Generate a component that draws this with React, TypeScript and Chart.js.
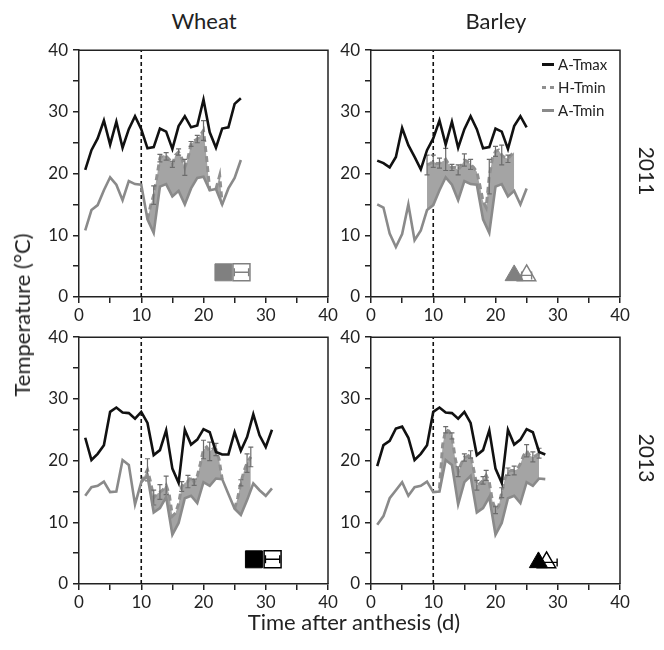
import React, { useEffect, useRef } from 'react';
import { Chart, registerables } from 'chart.js';

Chart.register(...registerables);

const FONT = 'Lato, "Open Sans", sans-serif';

// ---- shared x categories (days after anthesis) ----
const DAYS = [1, 2, 3, 4, 5, 6, 7, 8, 9, 10, 11, 12, 13, 14, 15, 16, 17, 18, 19, 20, 21, 22, 23, 24, 25, 26, 27, 28, 29, 30, 31];
const X_TICKS = [0, 10, 20, 30, 40];
const Y_TICKS = [0, 10, 20, 30, 40];
const ANTHESIS_DAY = 10;

// ---- Wheat 2011 ----
const W11_TMAX = [20.6, 23.8, 25.7, 28.6, 24.7, 28.4, 24.2, 27.2, 29.3, 27.2, 24.1, 24.3, 27.3, 26.8, 24.0, 27.7, 29.3, 27.5, 27.8, 32.0, 26.7, 24.2, 27.3, 27.5, 31.3, 32.2];
const W11_AMIN = [10.8, 14.1, 14.9, 17.3, 19.4, 18.2, 15.7, 18.8, 18.3, 18.2, 12.6, 10.4, 17.9, 18.3, 16.3, 17.2, 15.0, 17.6, 19.3, 19.5, 17.3, 17.5, 15.0, 17.6, 19.3, 22.2];
const W11_H_X = [11, 11.5, 12, 12.5, 13, 13.5, 14, 14.5, 15, 15.5, 16, 16.5, 17, 17.5, 18, 18.5, 19, 19.5, 20, 20.5, 21, 21.5, 22, 22.6, 23];
const W11_H_Y = [12.6, 14.8, 16.5, 19.5, 22.5, 23.0, 22.8, 22.3, 21.5, 23.0, 23.5, 22.5, 21.0, 22.5, 24.8, 25.3, 25.6, 26.2, 27.0, 22.5, 17.3, null, 17.5, 19.7, 15.0];
const W11_H_ERR = [0, 0, 1.5, 0, 0.6, 0, 0.6, 0, 0.5, 0, 0.5, 0, 1.3, 0, 0.4, 0, 0.6, 0, 1.6, 0, 0, 0, 0, 0, 0];
const W11_MAT = [23.2, 26.1];
const W11_MAT_ERR = [0, 1.15];

// ---- Barley 2011 ----
const B11_TMAX = [22.1, 21.7, 21.0, 22.7, 27.4, 24.6, 22.7, 20.7, 23.8, 25.7, 28.6, 24.7, 28.4, 24.2, 27.2, 29.3, 27.2, 24.1, 24.3, 27.3, 26.8, 24.0, 27.7, 29.3, 27.5];
const B11_AMIN = [15.0, 14.5, 10.3, 8.1, 10.2, 15.0, 9.2, 10.8, 14.1, 14.9, 17.3, 19.4, 18.2, 15.7, 18.8, 18.3, 18.2, 12.6, 10.4, 17.9, 18.3, 16.3, 17.2, 15.0, 17.6];
const B11_H_X = [9, 9.5, 10, 10.5, 11, 11.5, 12, 12.5, 13, 13.5, 14, 14.5, 15, 15.5, 16, 16.5, 17, 17.5, 18, 18.5, 19, 19.5, 20, 20.5, 21, 21.5, 22, 22.5, 23];
const B11_H_Y = [21.4, 21.6, 22.0, 21.6, 21.7, 22.0, 22.3, 21.5, 21.0, 21.0, 20.6, 21.3, 22.2, 22.0, 21.5, 21.0, 20.3, 18.0, 15.5, 14.5, 19.5, 22.5, 23.6, 23.8, 23.0, 22.6, 22.4, 23.0, 23.5];
const B11_H_ERR = [1.6, 0, 1.0, 0, 0.8, 0, 1.8, 0, 0.5, 0, 0.8, 0, 1.0, 0, 0.8, 0, 0, 0, 0, 0, 2.8, 0, 0.8, 0, 1.6, 0, 0.6, 0, 0];
const B11_MAT = [23.0, 25.0];
const B11_MAT_ERR = [0, 0.8];

// ---- Wheat 2013 ----
const W13_TMAX = [23.7, 20.1, 21.1, 22.5, 27.9, 28.6, 27.8, 27.7, 26.8, 27.9, 26.1, 20.9, 21.7, 24.9, 18.7, 16.4, 25.0, 22.6, 23.4, 25.1, 24.6, 21.4, 21.0, 21.0, 24.6, 21.6, 23.8, 27.5, 24.1, 22.2, 25.0];
const W13_AMIN = [14.3, 15.7, 15.9, 16.6, 14.9, 15.0, 20.1, 19.3, 12.9, 16.5, 17.5, 11.6, 12.3, 14.1, 8.0, 9.9, 13.9, 14.3, 13.1, 16.5, 15.9, 17.1, 17.0, 14.6, 12.2, 11.2, 13.6, 16.3, 15.2, 14.3, 15.5];
const W13_H_X = [10, 10.5, 11, 11.5, 12, 12.5, 13, 13.5, 14, 14.5, 15, 15.5, 16, 16.5, 17, 17.5, 18, 18.5, 19, 19.5, 20, 20.5, 21, 21.5, 22, 22.5, 23, 24, 25, 25.5, 26, 26.5, 27, 27.6];
const W13_H_Y = [16.5, 17.5, 18.5, 16.5, 14.0, 14.6, 14.9, 15.3, 16.0, 14.5, 11.0, 11.5, 13.0, 15.8, 16.4, 16.6, 17.4, 16.5, 17.5, 19.5, 21.8, 22.2, 21.5, 21.9, 21.8, 20.2, 17.0, null, 12.2, 14.0, 16.4, 18.3, 19.6, 20.6];
const W13_H_ERR = [0, 0, 1.8, 0, 1.2, 0, 1.2, 0, 1.5, 0, 0, 0, 0, 0.8, 0, 1.0, 0, 0.5, 0, 0, 1.5, 0, 1.5, 0, 1.0, 0, 0, 0, 0, 0, 0.5, 0, 1.5, 1.6];
const W13_MAT = [28.1, 31.1];
const W13_MAT_ERR = [0, 1.15];

// ---- Barley 2013 ----
const B13_TMAX = [19.1, 22.5, 23.2, 25.2, 25.5, 23.7, 20.1, 21.1, 22.5, 27.9, 28.6, 27.8, 27.7, 26.8, 27.9, 26.1, 20.9, 21.7, 24.9, 18.7, 16.4, 25.0, 22.6, 23.4, 25.1, 24.6, 21.4, 21.0];
const B13_AMIN = [9.6, 11.0, 13.9, 15.2, 16.5, 14.3, 15.7, 15.9, 16.6, 14.9, 15.0, 20.1, 19.3, 12.9, 16.5, 17.5, 11.6, 12.3, 14.1, 8.0, 9.9, 13.9, 14.3, 13.1, 16.5, 15.9, 17.1, 17.0];
const B13_H_X = [11, 11.5, 12, 12.5, 13, 13.5, 14, 14.5, 15, 15.5, 16, 16.5, 17, 17.5, 18, 18.5, 19, 19.5, 20, 20.5, 21, 21.5, 22, 22.5, 23, 23.5, 24, 24.5, 25, 25.5, 26, 26.5, 27];
const B13_H_Y = [15.5, 22.5, 25.0, 24.8, 24.0, 20.5, 18.2, 19.5, 20.5, 20.7, 21.0, 18.5, 16.0, 16.3, 16.8, 17.6, 16.5, 13.5, 12.0, 12.6, 14.8, 17.0, 18.2, 18.4, 18.4, 18.6, 19.5, 20.8, 21.6, 20.8, 20.6, 20.8, 21.2];
const B13_H_ERR = [0, 0, 0.5, 0, 0.5, 0, 0.8, 0, 0.6, 0, 0.6, 0, 0.8, 0, 0.6, 0.8, 0, 0, 0.6, 0, 0.8, 0, 0.6, 0, 0.7, 0, 0, 0, 1.0, 0, 0.8, 0, 0.8];
const B13_MAT = [26.9, 28.2];
const B13_MAT_ERR = [0, 1.7];

// ---- styling ----
const TMAX_COLOR = '#111111';
const AMIN_COLOR = '#8a8a8a';
const HMIN_COLOR = '#909090';
const FILL_COLOR = '#a4a4a4';
const ERR_COLOR = '#6c6c6c';
const AXIS_COLOR = '#222222';

const PLOT_W = 249;
const PLOT_H = 250;
const Y_AXIS_W = 55;
const PAD_TOP = 12;
const PAD_RIGHT = 16;
const X_AXIS_H = 34;
const CW = Y_AXIS_W + PLOT_W + PAD_RIGHT;
const CH = PAD_TOP + PLOT_H + X_AXIS_H;

type PanelDef = {
  tmax: number[];
  amin: number[];
  hx: number[];
  hy: (number | null)[];
  herr: number[];
  mat: number[];
  matErr: number[];
  shape: 'rect' | 'triangle';
  markColor: string;
  plotLeft: number;
  plotTop: number;
};

const PANELS: PanelDef[] = [
  { tmax: W11_TMAX, amin: W11_AMIN, hx: W11_H_X, hy: W11_H_Y, herr: W11_H_ERR, mat: W11_MAT, matErr: W11_MAT_ERR, shape: 'rect', markColor: '#808080', plotLeft: 79, plotTop: 47 },
  { tmax: B11_TMAX, amin: B11_AMIN, hx: B11_H_X, hy: B11_H_Y, herr: B11_H_ERR, mat: B11_MAT, matErr: B11_MAT_ERR, shape: 'triangle', markColor: '#808080', plotLeft: 371, plotTop: 47 },
  { tmax: W13_TMAX, amin: W13_AMIN, hx: W13_H_X, hy: W13_H_Y, herr: W13_H_ERR, mat: W13_MAT, matErr: W13_MAT_ERR, shape: 'rect', markColor: '#000000', plotLeft: 79, plotTop: 334 },
  { tmax: B13_TMAX, amin: B13_AMIN, hx: B13_H_X, hy: B13_H_Y, herr: B13_H_ERR, mat: B13_MAT, matErr: B13_MAT_ERR, shape: 'triangle', markColor: '#000000', plotLeft: 371, plotTop: 334 },
];

const errorBarPlugin = {
  id: 'errorBars',
  afterDatasetDraw(chart: any, args: any) {
    const ds = chart.data.datasets[args.index];
    const ctx = chart.ctx;
    if (ds.errorBars) {
      const ys = chart.scales.y;
      ctx.save();
      ctx.strokeStyle = ERR_COLOR;
      ctx.lineWidth = 1.2;
      args.meta.data.forEach((el: any, i: number) => {
        const e = ds.errorBars[i];
        const v = ds.data[i].y;
        if (!e || v == null) return;
        const x = el.x;
        const y1 = ys.getPixelForValue(v + e);
        const y2 = ys.getPixelForValue(v - e);
        ctx.beginPath();
        ctx.moveTo(x, y1); ctx.lineTo(x, y2);
        ctx.moveTo(x - 2.5, y1); ctx.lineTo(x + 2.5, y1);
        ctx.moveTo(x - 2.5, y2); ctx.lineTo(x + 2.5, y2);
        ctx.stroke();
      });
      ctx.restore();
    }
    if (ds.xErr) {
      const xs = chart.scales.x;
      ctx.save();
      ctx.strokeStyle = ds.borderColor;
      ctx.lineWidth = 1.4;
      args.meta.data.forEach((el: any, i: number) => {
        const e = ds.xErr[i];
        if (!e) return;
        const v = ds.data[i].x;
        const x1 = xs.getPixelForValue(v - e);
        const x2 = xs.getPixelForValue(v + e);
        const y = el.y;
        ctx.beginPath();
        ctx.moveTo(x1, y); ctx.lineTo(x2, y);
        ctx.moveTo(x1, y - 4); ctx.lineTo(x1, y + 4);
        ctx.moveTo(x2, y - 4); ctx.lineTo(x2, y + 4);
        ctx.stroke();
      });
      ctx.restore();
    }
  },
};

const framePlugin = {
  id: 'frame',
  afterDraw(chart: any) {
    const { left, right, top, bottom } = chart.chartArea;
    const ctx = chart.ctx;
    ctx.save();
    ctx.strokeStyle = AXIS_COLOR;
    ctx.lineWidth = 1.5;
    ctx.beginPath();
    ctx.moveTo(left, top);
    ctx.lineTo(right, top);
    ctx.lineTo(right, bottom);
    ctx.stroke();
    ctx.restore();
  },
};

function buildConfig(p: PanelDef): any {
  const markY = p.shape === 'rect' ? 4 : 3.5;
  const markR = p.shape === 'rect' ? 12 : 10.5;
  const axisCommon = (ticks: number[]) => ({
    type: 'linear',
    min: 0,
    max: 40,
    ticks: {
      stepSize: 5,
      autoSkip: false,
      maxRotation: 0,
      callback: (v: number) => (ticks.includes(v) ? String(v) : ''),
      font: { family: FONT, size: 17 },
      color: AXIS_COLOR,
    },
    grid: { drawOnChartArea: false, drawTicks: true, tickLength: 6, color: AXIS_COLOR, lineWidth: 1.5 },
    border: { color: AXIS_COLOR, width: 1.5 },
  });
  return {
    type: 'line',
    data: {
      datasets: [
        {
          label: 'A-Tmax',
          data: p.tmax.map((v, i) => ({ x: DAYS[i], y: v })),
          borderColor: TMAX_COLOR,
          borderWidth: 2.6,
          pointRadius: 0,
          fill: false,
          tension: 0,
        },
        {
          label: 'A-Tmin',
          data: p.amin.map((v, i) => ({ x: DAYS[i], y: v })),
          borderColor: AMIN_COLOR,
          borderWidth: 2.6,
          pointRadius: 0,
          fill: false,
          tension: 0,
        },
        {
          label: 'H-Tmin',
          data: p.hx.map((x, i) => ({ x, y: p.hy[i] })),
          borderColor: HMIN_COLOR,
          borderWidth: 3,
          borderDash: [6, 4],
          pointRadius: 0,
          backgroundColor: FILL_COLOR,
          fill: { target: 1, above: FILL_COLOR, below: FILL_COLOR },
          spanGaps: false,
          tension: 0,
          errorBars: p.herr,
        },
        {
          label: 'anthesis',
          data: [{ x: ANTHESIS_DAY, y: 0 }, { x: ANTHESIS_DAY, y: 40 }],
          borderColor: '#111',
          borderWidth: 1.6,
          borderDash: [4, 3],
          pointRadius: 0,
          fill: false,
        },
        {
          label: 'ambient maturity',
          data: [{ x: p.mat[0], y: markY }],
          showLine: false,
          pointStyle: p.shape,
          pointRadius: markR,
          pointBackgroundColor: p.markColor,
          pointBorderColor: p.markColor,
          pointBorderWidth: 1,
          borderColor: p.markColor,
        },
        {
          label: 'heated maturity',
          data: [{ x: p.mat[1], y: markY }],
          showLine: false,
          pointStyle: p.shape,
          pointRadius: markR,
          pointBackgroundColor: '#ffffff',
          pointBorderColor: p.markColor,
          pointBorderWidth: 1.5,
          borderColor: p.markColor,
          xErr: [p.matErr[1]],
        },
      ],
    },
    options: {
      responsive: false,
      animation: false,
      devicePixelRatio: 1,
      events: [],
      layout: { padding: { left: 0, right: PAD_RIGHT, top: PAD_TOP, bottom: 0 } },
      plugins: { legend: { display: false }, tooltip: { enabled: false }, title: { display: false } },
      scales: {
        x: {
          ...axisCommon(X_TICKS),
          ticks: { ...axisCommon(X_TICKS).ticks, padding: 2 },
          afterFit: (s: any) => { s.height = X_AXIS_H; },
        },
        y: {
          ...axisCommon(Y_TICKS),
          ticks: { ...axisCommon(Y_TICKS).ticks, padding: 5 },
          afterFit: (s: any) => { s.width = Y_AXIS_W; },
        },
      },
    },
    plugins: [errorBarPlugin, framePlugin],
  };
}

function Panel({ p }: { p: PanelDef }) {
  const ref = useRef<HTMLCanvasElement>(null);
  useEffect(() => {
    const chart = new Chart(ref.current as HTMLCanvasElement, buildConfig(p));
    return () => chart.destroy();
  }, [p]);
  return (
    <canvas
      ref={ref}
      width={CW}
      height={CH}
      style={{ position: 'absolute', left: p.plotLeft - Y_AXIS_W, top: p.plotTop - PAD_TOP, width: CW, height: CH }}
    />
  );
}

const LEGEND = [
  { label: 'A-Tmax', color: TMAX_COLOR, dashed: false },
  { label: 'H-Tmin', color: HMIN_COLOR, dashed: true },
  { label: 'A-Tmin', color: AMIN_COLOR, dashed: false },
];

const textBase: React.CSSProperties = {
  position: 'absolute',
  fontFamily: FONT,
  color: '#222',
  whiteSpace: 'nowrap',
  lineHeight: 1,
};

export default function App() {
  return (
    <div style={{ position: 'absolute', left: 0, top: 0, width: 664, height: 650, background: '#fff', overflow: 'hidden' }}>
      {PANELS.map((p, i) => (
        <Panel key={i} p={p} />
      ))}
      <div style={{ ...textBase, left: 204, top: 21, fontSize: 22, transform: 'translate(-50%, -50%)' }}>Wheat</div>
      <div style={{ ...textBase, left: 496, top: 21, fontSize: 22, transform: 'translate(-50%, -50%)' }}>Barley</div>
      <div style={{ ...textBase, left: 647, top: 171, fontSize: 21, transform: 'translate(-50%, -50%) rotate(90deg)' }}>2011</div>
      <div style={{ ...textBase, left: 647, top: 458, fontSize: 21, transform: 'translate(-50%, -50%) rotate(90deg)' }}>2013</div>
      <div style={{ ...textBase, left: 22, top: 315, fontSize: 22, transform: 'translate(-50%, -50%) rotate(-90deg)' }}>Temperature (°C)</div>
      <div style={{ ...textBase, left: 354, top: 622, fontSize: 22, transform: 'translate(-50%, -50%)' }}>Time after anthesis (d)</div>
      {LEGEND.map((it, i) => (
        <div key={it.label} style={{ ...textBase, left: 542, top: 64 + i * 23 - 9, height: 18, display: 'flex', alignItems: 'center', fontSize: 15 }}>
          {it.dashed ? (
            <span style={{ display: 'inline-flex', width: 12, justifyContent: 'space-between', marginRight: 4 }}>
              <span style={{ display: 'inline-block', width: 4, height: 3, background: it.color }} />
              <span style={{ display: 'inline-block', width: 4, height: 3, background: it.color }} />
            </span>
          ) : (
            <span style={{ display: 'inline-block', width: 12, height: 3, background: it.color, marginRight: 4 }} />
          )}
          <span>{it.label}</span>
        </div>
      ))}
    </div>
  );
}
